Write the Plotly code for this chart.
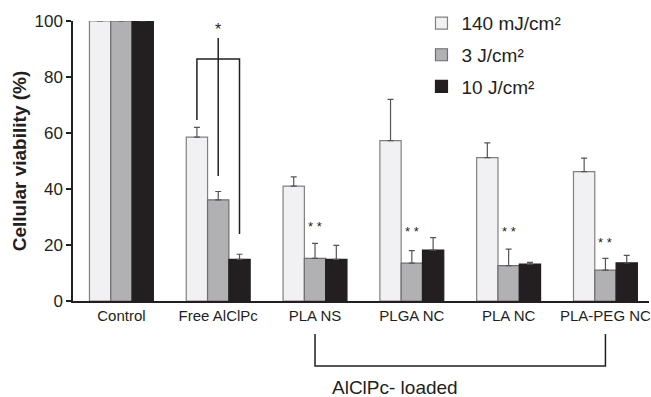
import plotly.graph_objects as go

categories = ["Control", "Free AlClPc", "PLA NS", "PLGA NC", "PLA NC", "PLA-PEG NC"]
series_names = ["140 mJ/cm²", "3 J/cm²", "10 J/cm²"]
v_140mJ = [100, 58.5, 41.0, 57.3, 51.2, 46.2]
e_140mJ = [0, 3.5, 3.3, 14.7, 5.3, 4.8]
v_3J = [100, 36.1, 15.2, 13.5, 12.6, 11.0]
e_3J = [0, 3.0, 5.4, 4.5, 5.9, 4.2]
v_10J = [100, 14.9, 14.9, 18.2, 13.2, 13.6]
e_10J = [0, 1.8, 5.0, 4.4, 0.6, 2.7]
star2_y = [None, None, 23.2, 21.3, 21.3, 17.5]

fills = ["#f1f1f3", "#b1b1b4", "#231f20"]
lines = ["#808080", "#6e6e70", "#231f20"]
values = [v_140mJ, v_3J, v_10J]
errors = [e_140mJ, e_3J, e_10J]

fig = go.Figure()
for i in range(3):
    fig.add_trace(go.Bar(
        x=categories, y=values[i], name=series_names[i],
        marker=dict(color=fills[i], line=dict(color=lines[i], width=1.2)),
        error_y=dict(type="data", array=errors[i], arrayminus=[0] * 6, symmetric=False,
                     color="#555555", thickness=1.2, width=3),
        legendgroup=str(i),
    ))

XR = [-0.5, 5.45]
def px(xd):
    return (xd - XR[0]) / (XR[1] - XR[0])

bw = 0.22
shapes = []
lc = dict(color="#231f20", width=1.5)
shapes.append(dict(type="path", xref="x", yref="y",
                   path=f"M {1-bw},64.6 L {1-bw},86.4 L {1+bw},86.4 L {1+bw},23.9",
                   line=lc))
shapes.append(dict(type="line", xref="x", yref="y", x0=1, x1=1, y0=44.6, y1=93.9, line=lc))
shapes.append(dict(type="path", xref="paper", yref="paper",
                   path=f"M {px(2)},-0.118 L {px(2)},-0.232 L {px(5)},-0.232 L {px(5)},-0.118",
                   line=lc))

ann = [dict(x=1, y=97, xref="x", yref="y", text="*", showarrow=False,
            font=dict(size=16, color="#231f20"), yanchor="middle")]
for i, yv in enumerate(star2_y):
    if yv is not None:
        ann.append(dict(x=i, y=yv, xref="x", yref="y", text="* *", showarrow=False,
                        font=dict(size=13, color="#231f20"), yanchor="bottom"))
ann.append(dict(x=(px(2) + px(5)) / 2, y=-0.31, xref="paper", yref="paper",
                text="AlClPc- loaded", showarrow=False,
                font=dict(size=19, color="#231f20"), yanchor="middle"))

fig.update_layout(
    width=651, height=397,
    margin=dict(l=73, r=0, t=21, b=96),
    paper_bgcolor="white", plot_bgcolor="white",
    font=dict(family="Liberation Sans, Arial, sans-serif", color="#231f20"),
    barmode="group", bargap=0.34, bargroupgap=0,
    showlegend=True,
    legend=dict(x=0.605, y=1.06, xanchor="left", yanchor="top",
                font=dict(size=19), bgcolor="rgba(0,0,0,0)",
                traceorder="grouped", tracegroupgap=4, itemwidth=30),
    xaxis=dict(range=XR, showline=True, linecolor="#231f20", linewidth=1.5,
               ticks="", tickfont=dict(size=15), showgrid=False, zeroline=False),
    yaxis=dict(range=[0, 100], tickvals=[0, 20, 40, 60, 80, 100],
               showline=True, linecolor="#231f20", linewidth=1.5,
               ticks="outside", ticklen=5, tickcolor="#231f20", tickwidth=1.5,
               tickfont=dict(size=17), showgrid=False, zeroline=False,
               title=dict(text="<b>Cellular viability (%)</b>", font=dict(size=19), standoff=3)),
    shapes=shapes, annotations=ann,
)
fig.write_html("out.html", config={"displayModeBar": False},
               post_script="document.body.style.margin='0';document.body.style.overflow='hidden';")
